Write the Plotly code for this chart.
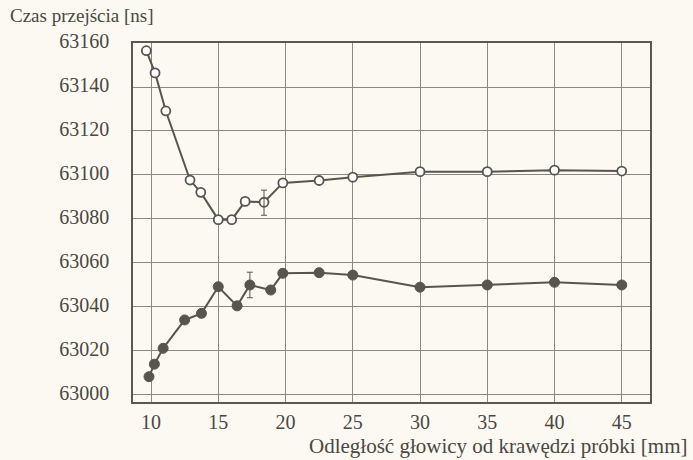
import plotly.graph_objects as go

# Upper series (open circles)
x_upper = [9.65, 10.3, 11.1, 12.9, 13.7, 15.0, 16.0, 17.0, 18.4, 19.8, 22.5, 25, 30, 35, 40, 45]
y_upper = [63156.5, 63146.4, 63129.1, 63097.7, 63092.1, 63079.7, 63079.7, 63088.0, 63087.6, 63096.4,
           63097.5, 63099.0, 63101.5, 63101.5, 63102.2, 63101.8]

# Lower series (filled circles)
x_lower = [9.85, 10.25, 10.9, 12.5, 13.75, 15.0, 16.4, 17.35, 18.9, 19.8, 22.5, 25, 30, 35, 40, 45]
y_lower = [63008.3, 63014.0, 63021.2, 63034.1, 63037.1, 63049.2, 63040.5, 63050.0, 63047.7, 63055.3,
           63055.6, 63054.5, 63049.0, 63050.0, 63051.2, 63050.0]

# Error bars (single points)
err_upper_x = [18.4]
err_upper_y = [63087.4]
err_upper_v = [5.7]
err_lower_x = [17.35]
err_lower_y = [63050.0]
err_lower_v = [5.8]

x_ticks = [10, 15, 20, 25, 30, 35, 40, 45]
y_ticks = [63000, 63020, 63040, 63060, 63080, 63100, 63120, 63140, 63160]

LINE = "#57554d"
BG = "#fbf9f1"
GRID = "#8a887f"
FONT = "Liberation Serif"
TXT = "#4a4842"

fig = go.Figure()

fig.add_trace(go.Scatter(
    x=x_upper, y=y_upper, mode="lines+markers",
    line=dict(color=LINE, width=2),
    marker=dict(symbol="circle", size=9, color="white", line=dict(color=LINE, width=1.8)),
    showlegend=False))

fig.add_trace(go.Scatter(
    x=x_lower, y=y_lower, mode="lines+markers",
    line=dict(color=LINE, width=2),
    marker=dict(symbol="circle", size=10, color=LINE, line=dict(color=LINE, width=1)),
    showlegend=False))

for ex, ey, ev in [(err_upper_x, err_upper_y, err_upper_v), (err_lower_x, err_lower_y, err_lower_v)]:
    fig.add_trace(go.Scatter(
        x=ex, y=ey, mode="markers",
        marker=dict(size=1, opacity=0),
        error_y=dict(type="data", array=ev, visible=True, color=LINE, thickness=1, width=3),
        showlegend=False, hoverinfo="skip"))

fig.update_layout(
    width=693, height=460,
    margin=dict(l=133, r=43, t=43, b=58),
    paper_bgcolor=BG, plot_bgcolor=BG,
    font=dict(family=FONT, size=20, color=TXT),
    xaxis=dict(range=[8.66, 47.1], tickvals=x_ticks, showgrid=True, gridcolor=GRID, gridwidth=1,
               zeroline=False, showline=True, linecolor="#5a5850", linewidth=1.5, mirror=True,
               ticks="", ticklabelstandoff=1),
    yaxis=dict(range=[62996.8, 63160], tickvals=y_ticks, tickformat="d", showgrid=True,
               gridcolor=GRID, gridwidth=1,
               zeroline=False, showline=True, linecolor="#5a5850", linewidth=1.5, mirror=True,
               ticks="", ticklabelstandoff=18, ticklabelshift=-2),
    annotations=[
        dict(text="Czas przejścia [ns]", xref="paper", yref="paper",
             x=(8 - 133) / 517, y=1 + (43 - 15) / 359, xanchor="left", yanchor="middle",
             showarrow=False, font=dict(family=FONT, size=19, color=TXT)),
        dict(text="Odległość głowicy od krawędzi próbki [mm]", xref="paper", yref="paper",
             x=(690 - 133) / 517, y=-(446 - 402) / 359, xanchor="right", yanchor="middle",
             showarrow=False, font=dict(family=FONT, size=21, color=TXT)),
    ],
)

fig.write_html("out.html")
